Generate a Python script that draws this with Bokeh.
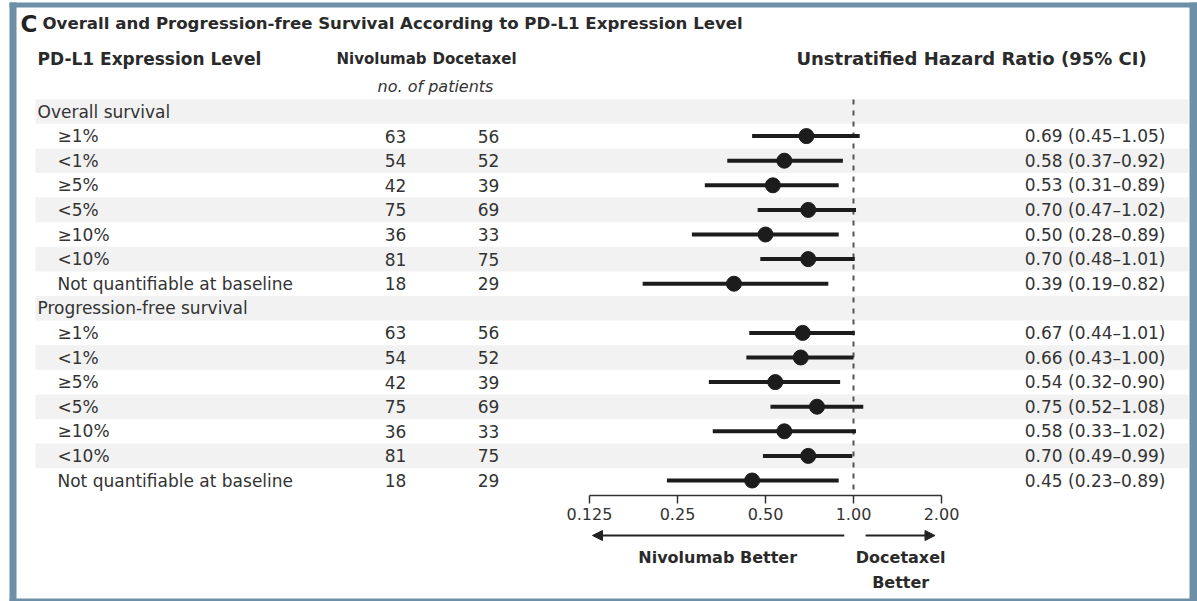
from bokeh.plotting import figure
from bokeh.models import Range1d, LogScale, ColumnDataSource, Arrow, NormalHead
from bokeh.core.properties import value
from bokeh.embed import file_html
from bokeh.resources import INLINE

# ---------------- data ----------------
panel_letter = "C"
title_text = "Overall and Progression-free Survival According to PD-L1 Expression Level"
hdr_level = "PD-L1 Expression Level"
hdr_nivo = "Nivolumab"
hdr_doce = "Docetaxel"
hdr_patients = "no. of patients"
hdr_hr = "Unstratified Hazard Ratio (95% CI)"

sections = ["Overall survival", "Progression-free survival"]
subgroups = ["\u22651%", "<1%", "\u22655%", "<5%", "\u226510%", "<10%", "Not quantifiable at baseline"]

os_nivo = [63, 54, 42, 75, 36, 81, 18]
os_doce = [56, 52, 39, 69, 33, 75, 29]
os_hr = [0.69, 0.58, 0.53, 0.70, 0.50, 0.70, 0.39]
os_lo = [0.45, 0.37, 0.31, 0.47, 0.28, 0.48, 0.19]
os_hi = [1.05, 0.92, 0.89, 1.02, 0.89, 1.01, 0.82]

pfs_nivo = [63, 54, 42, 75, 36, 81, 18]
pfs_doce = [56, 52, 39, 69, 33, 75, 29]
pfs_hr = [0.67, 0.66, 0.54, 0.75, 0.58, 0.70, 0.45]
pfs_lo = [0.44, 0.43, 0.32, 0.52, 0.33, 0.49, 0.23]
pfs_hi = [1.01, 1.00, 0.90, 1.08, 1.02, 0.99, 0.89]

tick_values = [0.125, 0.25, 0.5, 1.0, 2.0]
tick_labels = ["0.125", "0.25", "0.50", "1.00", "2.00"]
left_favours = "Nivolumab Better"
right_favours = ["Docetaxel", "Better"]

# ---------------- layout / style ----------------
W, H = 1197, 601
FONT = value("DejaVu Sans")
FS = "17px"
TXT = "#333333"
HDR = "#2a2a2a"
INK = "#1c1c1c"
BLUE = "#6d90a8"
STRIPE = "#f2f2f2"

ROW0_Y = 111.0
ROW_H = 24.6
X_SECTION = 37
X_SUB = 57
X_NIVO = 395
X_DOCE = 488
X_HR_TEXT = 1165
ONE_PX = 853.0
PX_PER_DOUBLING = 88.0
AXIS_Y = 495
ARROW_Y = 535

p = figure(width=W, height=H, x_range=Range1d(0, W), y_range=Range1d(H, 0),
           output_backend="svg", toolbar_location=None, min_border=0,
           x_axis_location=None, y_axis_location=None,
           background_fill_color="white", border_fill_color="white")
p.outline_line_color = None
p.xgrid.visible = False
p.ygrid.visible = False
p.extra_x_ranges = {"hr": Range1d(2 ** ((0 - ONE_PX) / PX_PER_DOUBLING),
                                  2 ** ((W - ONE_PX) / PX_PER_DOUBLING))}
p.extra_x_scales = {"hr": LogScale()}

# ---------------- rows ----------------
labels, label_x, nivo, doce, hr, lo, hi, is_sub = [], [], [], [], [], [], [], []
for sec, (n, d, h, l, u) in zip(sections, [(os_nivo, os_doce, os_hr, os_lo, os_hi),
                                           (pfs_nivo, pfs_doce, pfs_hr, pfs_lo, pfs_hi)]):
    labels.append(sec); label_x.append(X_SECTION)
    nivo.append(""); doce.append(""); hr.append(None); lo.append(None); hi.append(None)
    is_sub.append(False)
    for i, g in enumerate(subgroups):
        labels.append(g); label_x.append(X_SUB)
        nivo.append(str(n[i])); doce.append(str(d[i]))
        hr.append(h[i]); lo.append(l[i]); hi.append(u[i])
        is_sub.append(True)

row_y = [ROW0_Y + k * ROW_H for k in range(len(labels))]

# stripes
stripe_rows = [k for k in range(len(labels)) if k % 2 == 0]
p.quad(left=[35] * len(stripe_rows), right=[1188] * len(stripe_rows),
       top=[row_y[k] - ROW_H / 2 for k in stripe_rows],
       bottom=[row_y[k] + ROW_H / 2 for k in stripe_rows],
       fill_color=STRIPE, line_color=None)

# reference line at HR = 1
p.segment(x0=[1.0], y0=[ROW0_Y - 12], x1=[1.0], y1=[AXIS_Y - 5], x_range_name="hr",
          line_color="#555555", line_width=2, line_dash="5 6")

# labels
p.text(x=label_x, y=row_y, text=labels, text_font=FONT, text_font_size=FS,
       text_baseline="middle", text_align="left", text_color=TXT)

sub_idx = [k for k in range(len(labels)) if is_sub[k]]
src = ColumnDataSource(dict(
    y=[row_y[k] for k in sub_idx],
    nivo=[nivo[k] for k in sub_idx],
    doce=[doce[k] for k in sub_idx],
    hr=[hr[k] for k in sub_idx],
    lo=[lo[k] for k in sub_idx],
    hi=[hi[k] for k in sub_idx],
    hrtxt=["%.2f (%.2f\u2013%.2f)" % (hr[k], lo[k], hi[k]) for k in sub_idx],
    xn=[X_NIVO] * len(sub_idx), xd=[X_DOCE] * len(sub_idx), xh=[X_HR_TEXT] * len(sub_idx),
))
p.text(x="xn", y="y", text="nivo", source=src, text_font=FONT, text_font_size=FS,
       text_baseline="middle", text_align="center", text_color=TXT)
p.text(x="xd", y="y", text="doce", source=src, text_font=FONT, text_font_size=FS,
       text_baseline="middle", text_align="center", text_color=TXT)
p.text(x="xh", y="y", text="hrtxt", source=src, text_font=FONT, text_font_size=FS,
       text_baseline="middle", text_align="right", text_color=TXT)

# CIs and points
p.segment(x0="lo", y0="y", x1="hi", y1="y", source=src, x_range_name="hr",
          line_color=INK, line_width=4)
p.scatter(x="hr", y="y", source=src, x_range_name="hr", size=15,
          fill_color=INK, line_color=INK)

# headers
p.text(x=[20], y=[23], text=[panel_letter], text_font=FONT, text_font_size="23px",
       text_font_style="bold", text_baseline="middle", text_color="#222222")
p.text(x=[42], y=[23], text=[title_text], text_font=FONT, text_font_size="16.6px",
       text_font_style="bold", text_baseline="middle", text_color=HDR)
p.text(x=[X_SECTION], y=[58], text=[hdr_level], text_font=FONT, text_font_size="17px",
       text_font_style="bold", text_baseline="middle", text_color=HDR)
p.text(x=[381, 474], y=[58, 58], text=[hdr_nivo, hdr_doce], text_font=FONT,
       text_font_size="15px", text_font_style="bold", text_baseline="middle",
       text_align="center", text_color=HDR)
p.text(x=[971], y=[58], text=[hdr_hr], text_font=FONT, text_font_size="18px",
       text_font_style="bold", text_baseline="middle", text_align="center", text_color=HDR)
p.text(x=[435], y=[86], text=[hdr_patients], text_font=FONT, text_font_size="16px",
       text_font_style="italic", text_baseline="middle", text_align="center", text_color=TXT)

# HR axis
p.segment(x0=[tick_values[0]], y0=[AXIS_Y], x1=[tick_values[-1]], y1=[AXIS_Y],
          x_range_name="hr", line_color="#333333", line_width=1.5)
p.segment(x0=tick_values, y0=[AXIS_Y] * len(tick_values), x1=tick_values,
          y1=[AXIS_Y + 8] * len(tick_values), x_range_name="hr",
          line_color="#333333", line_width=1.5)
p.text(x=tick_values, y=[AXIS_Y + 18] * len(tick_values), text=tick_labels,
       x_range_name="hr", text_font=FONT, text_font_size="16px", text_baseline="middle",
       text_align="center", text_color=TXT)

# direction arrows
p.add_layout(Arrow(end=NormalHead(size=10, fill_color="#222222", line_color="#222222"),
                   x_start=0.93, y_start=ARROW_Y, x_end=0.128, y_end=ARROW_Y,
                   x_range_name="hr", line_color="#222222", line_width=2))
p.add_layout(Arrow(end=NormalHead(size=10, fill_color="#222222", line_color="#222222"),
                   x_start=1.10, y_start=ARROW_Y, x_end=1.90, y_end=ARROW_Y,
                   x_range_name="hr", line_color="#222222", line_width=2))
p.text(x=[0.343], y=[557], text=[left_favours], x_range_name="hr", text_font=FONT,
       text_font_size="16px", text_font_style="bold", text_baseline="middle",
       text_align="center", text_color=HDR)
p.text(x=[1.45, 1.45], y=[557, 582], text=right_favours, x_range_name="hr", text_font=FONT,
       text_font_size="16px", text_font_style="bold", text_baseline="middle",
       text_align="center", text_color=HDR)

# frame border
p.quad(left=[9, 9, 1189, 9], right=[16, W, W, W], top=[2, 2, 2, 598],
       bottom=[H, 7, H, H], fill_color=BLUE, line_color=None)

open("out.html", "w").write(file_html(p, INLINE))
